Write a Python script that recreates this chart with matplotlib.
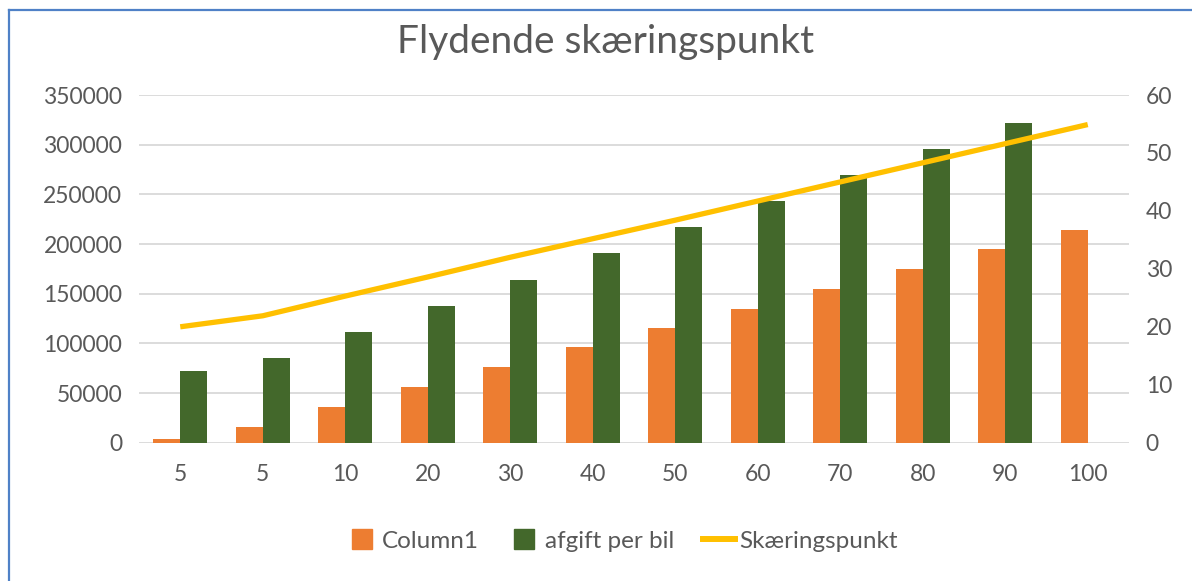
import numpy as np
import matplotlib
matplotlib.use("Agg")
import matplotlib.pyplot as plt
from matplotlib.lines import Line2D

categories = ["5", "5", "10", "20", "30", "40", "50", "60", "70", "80", "90", "100"]
column1 = [4000, 16000, 36000, 56000, 76000, 96000, 115000, 135000, 155000, 175000, 194500, 214000]
afgift_per_bil = [72000, 85000, 111000, 137500, 164000, 190500, 217000, 243500, 269500, 295500, 322000]
skaeringspunkt = [20.0, 21.9, 25.3, 28.6, 32.0, 35.2, 38.4, 41.7, 45.0, 48.3, 51.6, 54.9]

ORANGE = "#ED7D31"
GREEN = "#43682B"
YELLOW = "#FFC000"
TEXT = "#595959"
GRID = "#D9D9D9"

plt.rcParams["font.family"] = ["Lato", "DejaVu Sans"]

W, H = 1192, 581
fig = plt.figure(figsize=(W / 100, H / 100), dpi=100)
fig.patch.set_facecolor("white")

# plot area in pixels: x 139..1129, y 95..443
ax = fig.add_axes([139 / W, 1 - 442.7 / H, 990 / W, (442.7 - 95) / H])
x = np.arange(len(categories))
bw = 0.33

ax.bar(x - bw / 2, column1, width=bw, color=ORANGE, zorder=2)
ax.bar(x[:len(afgift_per_bil)] + bw / 2, afgift_per_bil, width=bw, color=GREEN, zorder=2)

ax.set_xlim(-0.5, len(categories) - 0.5)
ax.set_ylim(0, 350000)
ax.set_yticks(np.arange(0, 350001, 50000))
ax.set_yticklabels([f"{v:d}" for v in range(0, 350001, 50000)])
ax.set_xticks(x)
ax.set_xticklabels(categories)
ax.grid(True, axis="y", color=GRID, linewidth=1.3, zorder=0)
ax.set_axisbelow(True)
for s in ax.spines.values():
    s.set_visible(False)
ax.tick_params(axis="both", length=0, labelsize=16.5, colors=TEXT)
ax.tick_params(axis="y", pad=12)
ax.tick_params(axis="x", pad=15)

# secondary axis for the crossing point line
ax2 = ax.twinx()
ax2.plot(x, skaeringspunkt, color=YELLOW, linewidth=3.8, solid_capstyle="butt", zorder=3)
ax2.set_ylim(0, 60)
ax2.set_yticks(np.arange(0, 61, 10))
for s in ax2.spines.values():
    s.set_visible(False)
ax2.tick_params(axis="y", length=0, labelsize=16.5, colors=TEXT, pad=12)

fig.text(606 / W, 1 - 42 / H, "Flydende skæringspunkt", ha="center", va="center",
         fontsize=28, color=TEXT)

handles = [Line2D([], [], marker="s", markersize=14.4, linestyle="none", color=ORANGE),
           Line2D([], [], marker="s", markersize=14.4, linestyle="none", color=GREEN),
           Line2D([], [], color=YELLOW, linewidth=4.3)]
labels = ["Column1", "afgift per bil", "Skæringspunkt"]
leg = fig.legend(handles, labels, loc="center", bbox_to_anchor=(622 / W, 1 - 541 / H),
                 ncol=3, frameon=False, fontsize=17.5, handlelength=1.3,
                 handletextpad=0.2, columnspacing=1.2)
for t in leg.get_texts():
    t.set_color(TEXT)

# blue frame (only left and top edges are visible)
fig.add_artist(Line2D([8.5 / W, 8.5 / W], [0, 1 - 10 / H], transform=fig.transFigure,
                      color="#4F81C7", linewidth=1.6))
fig.add_artist(Line2D([8.5 / W, 1], [1 - 10 / H, 1 - 10 / H], transform=fig.transFigure,
                      color="#4F81C7", linewidth=1.6))

fig.savefig("out.png", dpi=100)
